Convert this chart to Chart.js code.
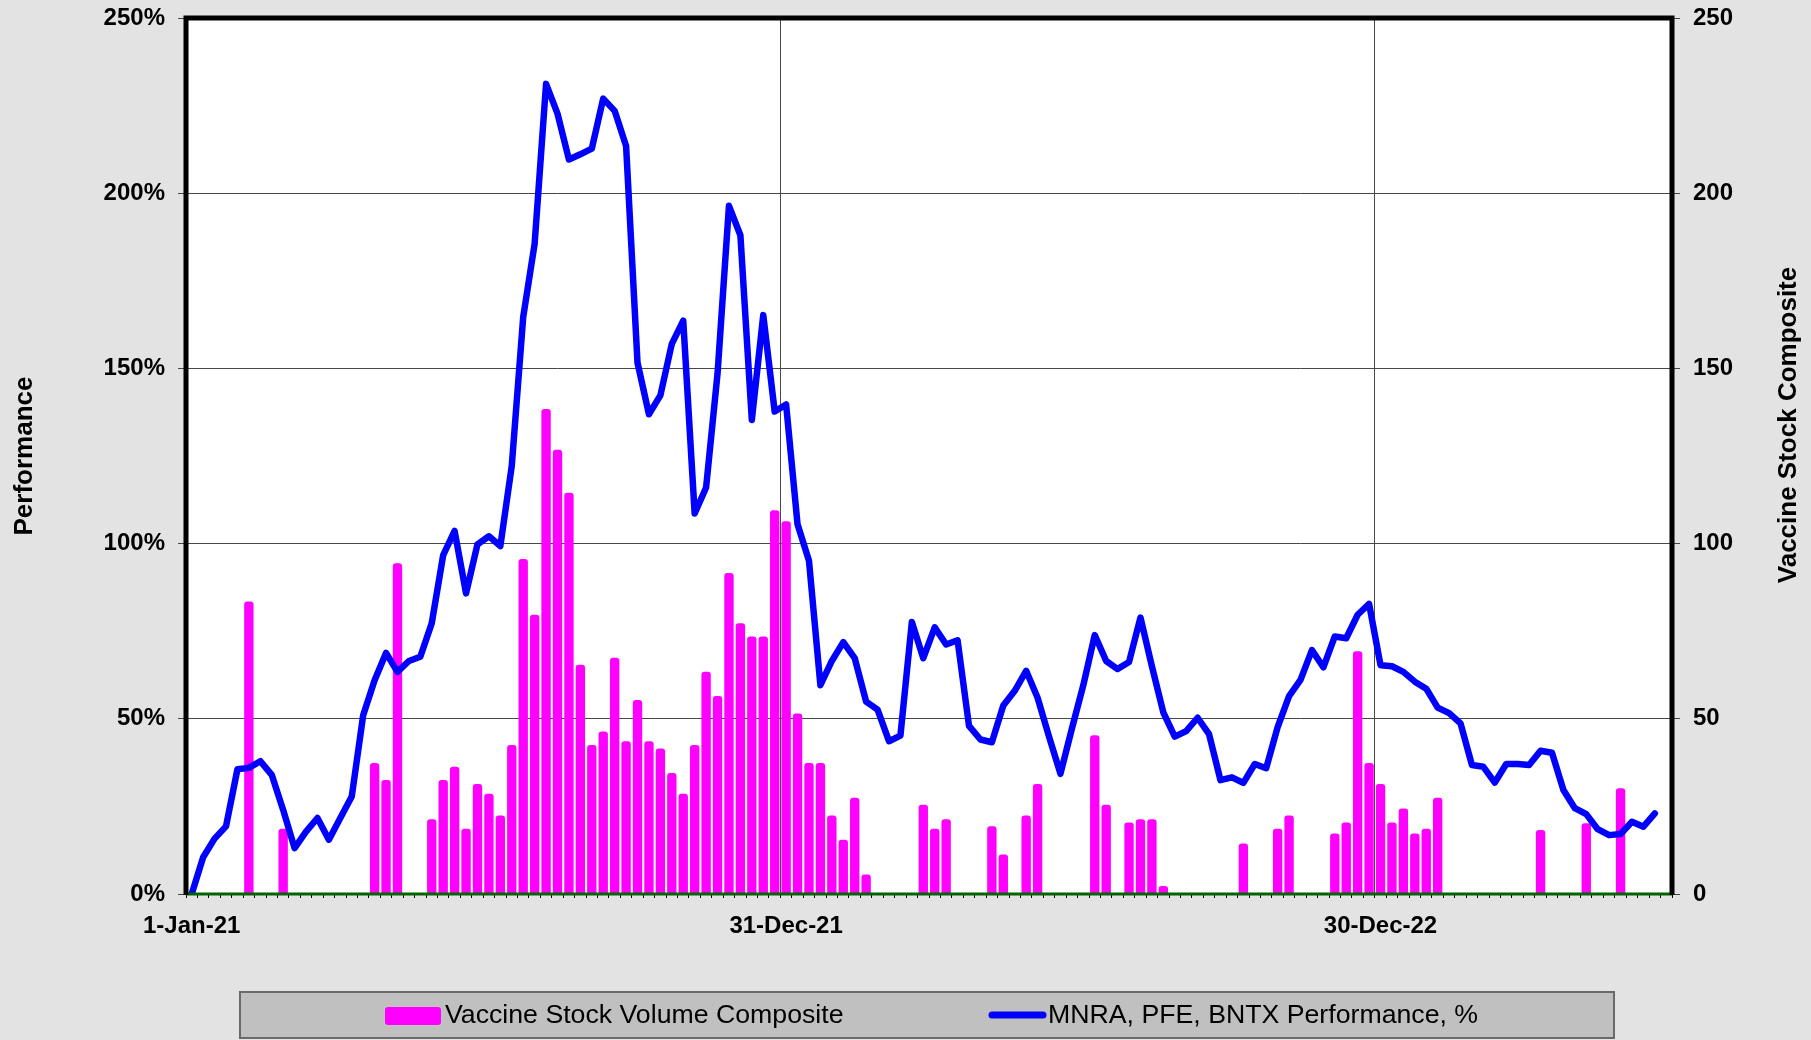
<!DOCTYPE html>
<html>
<head>
<meta charset="utf-8">
<title>Vaccine Stock Composite</title>
<script src="https://cdn.jsdelivr.net/npm/chart.js@4.4.1/dist/chart.umd.min.js"></script>
<style>
    html, body { margin: 0; padding: 0; background: #e3e3e3; }
    #wrap { width: 1811px; height: 1040px; }
</style>
</head>
<body>
<div id="wrap"><canvas id="vaccine-chart" width="1811" height="1040"></canvas></div>
<script>
(function () {
    "use strict";

    // Weekly performance of MNRA, PFE, BNTX (%), one value per week from 1-Jan-21
    var performance = [
        0, 10.5, 15.8, 19.3, 35.6, 36, 37.9, 34, 24, 13.1,
        17.8, 21.7, 15.5, 21.7, 27.8, 51, 61, 68.8, 63.4, 66.5,
        67.7, 77.3, 96.7, 103.6, 85.8, 99.8, 102.1, 99.3, 122.2, 164.7,
        185.6, 231.2, 222.7, 209.6, 211.1, 212.7, 227, 223.5, 213.5, 151.6,
        136.9, 142.3, 157, 163.6, 108.6, 116, 148.5, 196.4, 188, 135.3,
        165.2, 137.7, 139.7, 105.5, 95.1, 59.6, 66.5, 71.9, 67.3, 54.9,
        52.6, 43.6, 45.2, 77.6, 67.3, 76.1, 71.2, 72.4, 48, 44.1,
        43.3, 53.8, 58, 63.7, 56, 44.9, 34.3, 47.2, 59.6, 73.9,
        66.5, 64.2, 66.2, 78.9, 65, 51.8, 44.9, 46.5, 50.3, 45.6,
        32.5, 33.3, 31.7, 37.1, 35.9, 47.6, 56.5, 61.1, 69.6, 64.7,
        73.5, 73, 79.7, 82.8, 65.3, 65, 63.4, 60.6, 58.6, 53.2,
        51.6, 48.7, 36.8, 36.3, 31.8, 37.1, 37.1, 36.8, 40.9, 40.3,
        29.7, 24.5, 22.8, 18.5, 16.8, 17.1, 20.6, 19.2, 23
    ];

    // Weekly vaccine stock volume composite
    var volume = [
        0, 0, 0, 0, 0, 83.5, 0, 0, 18.6, 0,
        0, 0, 0, 0, 0, 0, 37.4, 32.5, 94.4, 0,
        0, 21.3, 32.5, 36.3, 18.6, 31.4, 28.6, 22.4, 42.5, 95.6,
        79.7, 138.4, 126.8, 114.5, 65.4, 42.5, 46.4, 67.4, 43.6, 55.4,
        43.6, 41.5, 34.5, 28.6, 42.5, 63.4, 56.5, 91.6, 77.3, 73.5,
        73.5, 109.5, 106.4, 51.5, 37.4, 37.4, 22.4, 15.5, 27.5, 5.6,
        0, 0, 0, 0, 25.5, 18.6, 21.3, 0, 0, 0,
        19.3, 11.3, 0, 22.4, 31.4, 0, 0, 0, 0, 45.3,
        25.5, 0, 20.4, 21.3, 21.3, 2.3, 0, 0, 0, 0,
        0, 0, 14.4, 0, 0, 18.6, 22.4, 0, 0, 0,
        17.3, 20.4, 69.3, 37.4, 31.4, 20.4, 24.4, 17.3, 18.6, 27.5,
        0, 0, 0, 0, 0, 0, 0, 0, 18.3, 0,
        0, 0, 20.2, 0, 0, 30.2, 0, 0, 0
    ];

    // x axis: 130 weekly slots, labelled once a year
    var weekCount = 130;
    var tickIndex = [0, 52, 104];
    var tickLabels = ["1-Jan-21", "31-Dec-21", "30-Dec-22"];

    var months = ["Jan", "Feb", "Mar", "Apr", "May", "Jun", "Jul", "Aug", "Sep", "Oct", "Nov", "Dec"];
    var weeks = [];
    for (var i = 0; i < weekCount; i++) {
        var d = new Date(Date.UTC(2021, 0, 1 + 7 * i));
        weeks.push(d.getUTCDate() + "-" + months[d.getUTCMonth()] + "-" + String(d.getUTCFullYear()).slice(2));
    }

    var FONT = "'Liberation Sans', Arial, sans-serif";
    Chart.defaults.font.family = FONT;
    Chart.defaults.color = "#000000";

    var gridColor = "#474747";

    // scale boxes are fixed so the plot area lands where the original one is
    function fixBox(size, key) {
        return function (s) {
            s[key] = size;
            s.paddingTop = 0;
            s.paddingBottom = 0;
            s.paddingLeft = 0;
            s.paddingRight = 0;
        };
    }

    // background, plot frame, right title and legend box
    var framePlugin = {
        id: "frame",
        beforeDraw: function (chart) {
            var c = chart.ctx, a = chart.chartArea;
            c.save();
            c.fillStyle = "#e3e3e3";
            c.fillRect(0, 0, chart.width, chart.height);
            c.fillStyle = "#ffffff";
            c.fillRect(a.left, a.top, a.right - a.left, a.bottom - a.top);
            c.restore();
        },
        afterDatasetsDraw: function (chart) {
            var c = chart.ctx, a = chart.chartArea;
            c.save();
            c.strokeStyle = "#006400";
            c.lineWidth = 3;
            c.beginPath();
            c.moveTo(a.left, a.bottom);
            c.lineTo(a.right, a.bottom);
            c.stroke();
            c.strokeStyle = "#000000";
            c.lineWidth = 5;
            c.lineJoin = "miter";
            c.beginPath();
            c.moveTo(a.left, a.bottom + 1);
            c.lineTo(a.left, a.top);
            c.lineTo(a.right, a.top);
            c.lineTo(a.right, a.bottom + 1);
            c.stroke();
            c.restore();
        },
        afterDraw: function (chart) {
            var c = chart.ctx;
            c.save();
            // right axis title, reading bottom to top
            c.translate(1789, 425);
            c.rotate(-Math.PI / 2);
            c.fillStyle = "#000000";
            c.font = "bold 26px " + FONT;
            c.textAlign = "center";
            c.textBaseline = "middle";
            c.fillText("Vaccine Stock Composite", 0, 0);
            c.restore();

            // legend
            c.save();
            c.fillStyle = "#c0c0c0";
            c.fillRect(240, 992, 1374, 46);
            c.strokeStyle = "#6a6a6a";
            c.lineWidth = 2;
            c.strokeRect(240, 992, 1374, 46);
            c.fillStyle = "#ff00ff";
            c.beginPath();
            c.roundRect(385, 1007, 56, 18, 3);
            c.fill();
            c.strokeStyle = "#0000ff";
            c.lineWidth = 7;
            c.lineCap = "round";
            c.beginPath();
            c.moveTo(992, 1015);
            c.lineTo(1043, 1015);
            c.stroke();
            c.fillStyle = "#000000";
            c.font = "26.7px " + FONT;
            c.textBaseline = "middle";
            c.fillText(chart.data.datasets[1].label, 445, 1016);
            c.fillText(chart.data.datasets[0].label, 1048, 1016);
            c.restore();
        }
    };

    var ctx = document.getElementById("vaccine-chart").getContext("2d");
    var vaccineChart = new Chart(ctx, {
        type: "bar",
        data: {
            labels: weeks,
            datasets: [{
                    type: "line",
                    label: "MNRA, PFE, BNTX Performance, %",
                    data: performance,
                    yAxisID: "y",
                    borderColor: "#0000ff",
                    backgroundColor: "#0000ff",
                    borderWidth: 6.5,
                    pointRadius: 0,
                    tension: 0,
                    fill: false,
                    borderJoinStyle: "round",
                    borderCapStyle: "round",
                    order: 1
                },
                {
                    type: "bar",
                    label: "Vaccine Stock Volume Composite",
                    data: volume,
                    yAxisID: "y1",
                    backgroundColor: "#ff00ff",
                    barPercentage: 0.82,
                    categoryPercentage: 1,
                    borderRadius: 3,
                    order: 2
                }
            ]
        },
        options: {
            responsive: false,
            animation: false,
            layout: { padding: { top: 18, left: 0, right: 0, bottom: 0 } },
            plugins: {
                legend: { display: false },
                tooltip: { enabled: false }
            },
            scales: {
                x: {
                    type: "category",
                    offset: true,
                    border: { display: false },
                    grid: {
                        offset: true,
                        drawTicks: true,
                        tickLength: 4,
                        tickColor: "#000000",
                        lineWidth: 1,
                        color: function (c) {
                            return tickIndex.indexOf(c.index) > 0 ? gridColor : "rgba(0,0,0,0)";
                        }
                    },
                    ticks: {
                        autoSkip: false,
                        maxRotation: 0,
                        minRotation: 0,
                        padding: 14,
                        color: "#000000",
                        font: { size: 24, weight: "bold" },
                        callback: function (v, i) {
                            var k = tickIndex.indexOf(i);
                            return k >= 0 ? tickLabels[k] : "";
                        }
                    },
                    afterFit: fixBox(146, "height")
                },
                y: {
                    position: "left",
                    min: 0,
                    max: 250,
                    border: { display: false },
                    grid: { color: gridColor, lineWidth: 1, tickLength: 8 },
                    ticks: {
                        stepSize: 50,
                        padding: 13,
                        color: "#000000",
                        font: { size: 24, weight: "bold" },
                        callback: function (v) { return v + "%"; }
                    },
                    title: {
                        display: true,
                        text: "Performance",
                        color: "#000000",
                        font: { size: 26, weight: "bold" },
                        padding: { top: 9, bottom: 0 }
                    },
                    afterFit: fixBox(186, "width")
                },
                y1: {
                    position: "right",
                    min: 0,
                    max: 250,
                    border: { display: false },
                    grid: { drawOnChartArea: false, color: gridColor, tickLength: 8 },
                    ticks: {
                        stepSize: 50,
                        padding: 13,
                        color: "#000000",
                        font: { size: 24, weight: "bold" }
                    },
                    afterFit: fixBox(139, "width")
                }
            }
        },
        plugins: [framePlugin]
    });
})();
</script>
</body>
</html>
